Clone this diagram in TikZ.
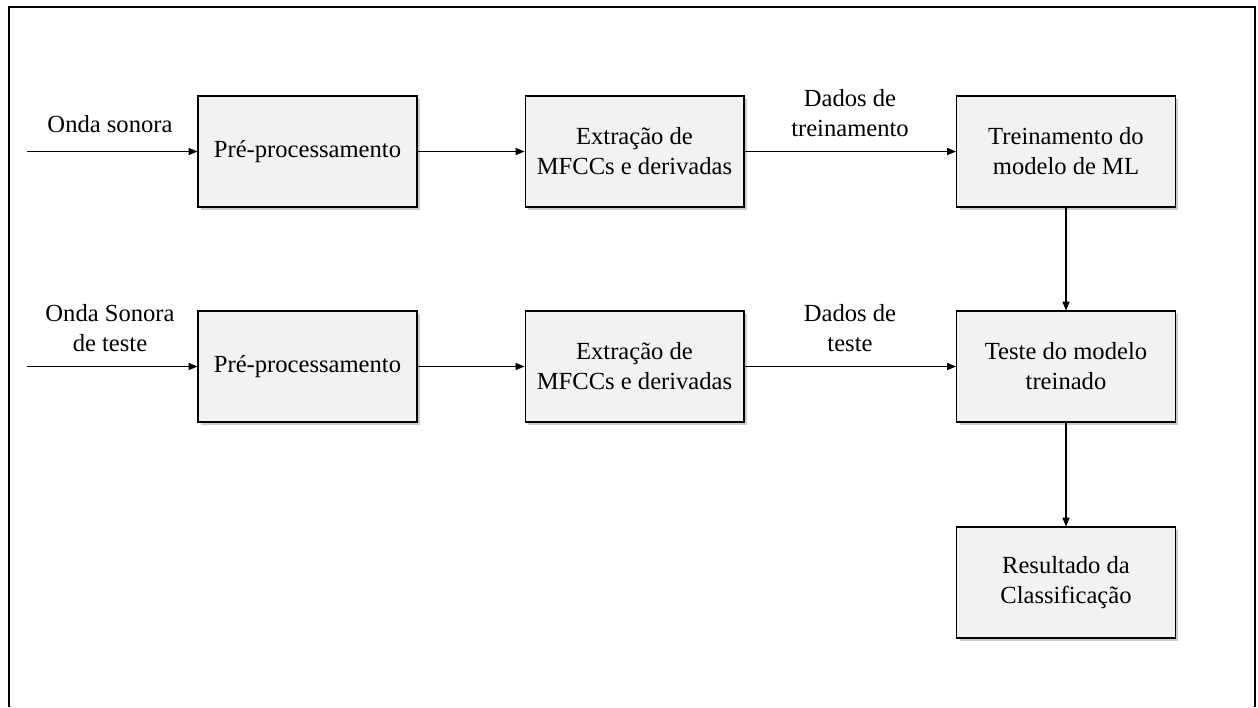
\documentclass[tikz,border=0pt]{standalone}
\usepackage{fontspec}
\setmainfont{Liberation Serif}
\usetikzlibrary{arrows.meta,positioning,shadows}
\definecolor{boxfill}{HTML}{F2F2F2}

\begin{document}
\begin{tikzpicture}[x=.02cm,y=-.02cm,font=\fontsize{14}{17}\selectfont,
  block/.style={draw,fill=boxfill,line width=.6pt,minimum width=4.38cm,minimum height=2.22cm,
    align=center,drop shadow={shadow xshift=.06cm,shadow yshift=-.06cm,opacity=.4}},
  lbl/.style={align=center,inner sep=0pt},
  flow/.style={-{Triangle[length=5pt,width=4pt]},line width=.6pt}]
  \useasboundingbox (0,0) rectangle (1258,707);
  \draw[line width=1.1pt] (9,707)--(9,7)--(1255,7)--(1255,707);
  % training row
  \node[block] (pre1) at (307.5,151.5) {Pré-processamento};
  \node[block] (ext1) at (634.5,151.5) {Extração de\\MFCCs e derivadas};
  \node[block] (trein) at (1066,151.5) {Treinamento do\\modelo de ML};
  % test row
  \node[block] (pre2) at (307.5,366.5) {Pré-processamento};
  \node[block] (ext2) at (634.5,366.5) {Extração de\\MFCCs e derivadas};
  \node[block] (teste) at (1066,366.5) {Teste do modelo\\treinado};
  \node[block] (res) at (1066,582.5) {Resultado da\\Classificação};
  \coordinate (in1) at (27,151.5);
  \coordinate (in2) at (27,366.5);
  \node[lbl] (onda1) at (110,124) {Onda sonora};
  \node[lbl] (onda2) at (110,328) {Onda Sonora\\de teste};
  \node[lbl] (dtrein) at (850,113) {Dados de\\treinamento};
  \node[lbl] (dteste) at (850,328) {Dados de\\teste};
  \draw[flow] (in1) -- (pre1);
  \draw[flow] (pre1) -- (ext1);
  \draw[flow] (ext1) -- (trein);
  \draw[flow] (in2) -- (pre2);
  \draw[flow] (pre2) -- (ext2);
  \draw[flow] (ext2) -- (teste);
  \draw[flow] (trein) -- (teste);
  \draw[flow] (teste) -- (res);
\end{tikzpicture}
\end{document}
